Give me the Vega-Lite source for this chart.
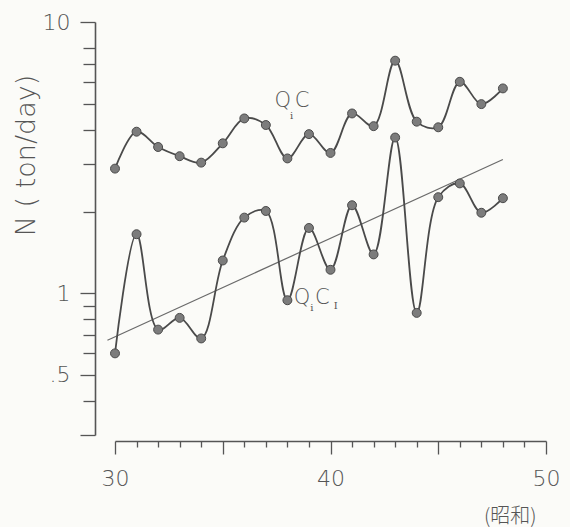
{
  "$schema": "https://vega.github.io/schema/vega-lite/v6.json",
  "autosize": {"type": "none"},
  "width": 431,
  "height": 413,
  "padding": {"left": 115, "top": 22, "right": 24, "bottom": 92},
  "background": "#fbfbf8",
  "config": {
    "view": {"stroke": null},
    "font": "DejaVu Sans"
  },
  "datasets": {
    "loads": [
      {"year": 30, "n": 2.88, "series": "QC"},
      {"year": 31, "n": 3.94, "series": "QC"},
      {"year": 32, "n": 3.46, "series": "QC"},
      {"year": 33, "n": 3.2, "series": "QC"},
      {"year": 34, "n": 3.03, "series": "QC"},
      {"year": 35, "n": 3.57, "series": "QC"},
      {"year": 36, "n": 4.41, "series": "QC"},
      {"year": 37, "n": 4.17, "series": "QC"},
      {"year": 38, "n": 3.14, "series": "QC"},
      {"year": 39, "n": 3.86, "series": "QC"},
      {"year": 40, "n": 3.29, "series": "QC"},
      {"year": 41, "n": 4.6, "series": "QC"},
      {"year": 42, "n": 4.13, "series": "QC"},
      {"year": 43, "n": 7.2, "series": "QC"},
      {"year": 44, "n": 4.29, "series": "QC"},
      {"year": 45, "n": 4.09, "series": "QC"},
      {"year": 46, "n": 6.02, "series": "QC"},
      {"year": 47, "n": 4.98, "series": "QC"},
      {"year": 48, "n": 5.69, "series": "QC"},
      {"year": 30, "n": 0.6, "series": "QCI"},
      {"year": 31, "n": 1.65, "series": "QCI"},
      {"year": 32, "n": 0.734, "series": "QCI"},
      {"year": 33, "n": 0.811, "series": "QCI"},
      {"year": 34, "n": 0.681, "series": "QCI"},
      {"year": 35, "n": 1.32, "series": "QCI"},
      {"year": 36, "n": 1.9, "series": "QCI"},
      {"year": 37, "n": 2.01, "series": "QCI"},
      {"year": 38, "n": 0.942, "series": "QCI"},
      {"year": 39, "n": 1.74, "series": "QCI"},
      {"year": 40, "n": 1.22, "series": "QCI"},
      {"year": 41, "n": 2.11, "series": "QCI"},
      {"year": 42, "n": 1.39, "series": "QCI"},
      {"year": 43, "n": 3.75, "series": "QCI"},
      {"year": 44, "n": 0.846, "series": "QCI"},
      {"year": 45, "n": 2.26, "series": "QCI"},
      {"year": 46, "n": 2.54, "series": "QCI"},
      {"year": 47, "n": 1.98, "series": "QCI"},
      {"year": 48, "n": 2.24, "series": "QCI"}
    ],
    "trend": [
      {"year": 29.65, "n": 0.671},
      {"year": 48, "n": 3.11}
    ],
    "labels": [
      {"year": 37.78, "n": 5.11, "t": "Q", "role": "main"},
      {"year": 38.2, "n": 4.5, "t": "i", "role": "sub"},
      {"year": 38.68, "n": 5.11, "t": "C", "role": "main"},
      {"year": 38.68, "n": 0.958, "t": "Q", "role": "main"},
      {"year": 39.13, "n": 0.885, "t": "i", "role": "sub"},
      {"year": 39.62, "n": 0.958, "t": "C", "role": "main"},
      {"year": 40.24, "n": 0.9, "t": "I", "role": "sub"}
    ]
  },
  "encoding": {
    "x": {
      "field": "year",
      "type": "quantitative",
      "scale": {"domain": [30, 50], "nice": false, "zero": false},
      "axis": {
        "values": [30, 31, 32, 33, 34, 35, 36, 37, 38, 39, 40, 41, 42, 43, 44, 45, 46, 47, 48, 49, 50],
        "labelExpr": "datum.value % 10 == 0 ? datum.label : ''",
        "tickSize": {"condition": {"test": "datum.value % 5 == 0", "value": 13}, "value": 6},
        "offset": 6,
        "grid": false,
        "labelFlush": false,
        "labelOverlap": false,
        "labelFont": "DejaVu Sans",
        "labelFontWeight": 300,
        "labelFontSize": 22,
        "labelColor": "#555555",
        "labelBaseline": "top",
        "labelPadding": 14,
        "domainColor": "#555555",
        "domainWidth": 1.6,
        "tickColor": "#555555",
        "tickWidth": 1.3,
        "title": "(昭和)",
        "titleFont": "Noto Sans CJK JP",
        "titleFontSize": 20,
        "titleFontWeight": 300,
        "titleColor": "#555555",
        "titleX": 421,
        "titleY": 85,
        "titleAlign": "right",
        "titleBaseline": "bottom"
      }
    },
    "y": {
      "field": "n",
      "type": "quantitative",
      "scale": {"type": "log", "domain": [0.3, 10], "nice": false, "zero": false},
      "axis": {
        "values": [0.3, 0.4, 0.5, 0.6, 0.7, 0.8, 0.9, 1, 2, 3, 4, 5, 6, 7, 8, 10],
        "labelExpr": "datum.value == 10 ? '10' : datum.value == 1 ? '1' : datum.value == 0.5 ? '.5' : ''",
        "tickSize": {"condition": {"test": "datum.value == 10 || datum.value == 1 || datum.value == 0.5 || datum.value == 0.3", "value": 15}, "value": 12},
        "offset": 20,
        "grid": false,
        "labelOverlap": false,
        "labelFont": "DejaVu Sans",
        "labelFontWeight": 300,
        "labelFontSize": 22,
        "labelColor": "#555555",
        "labelPadding": 10,
        "domainColor": "#555555",
        "domainWidth": 1.6,
        "tickColor": "#555555",
        "tickWidth": 1.3,
        "title": "N ( ton/day)",
        "titleFont": "DejaVu Sans",
        "titleFontSize": 27,
        "titleFontWeight": 300,
        "titleColor": "#555555",
        "titleX": -69,
        "titleY": 133,
        "titleAlign": "center",
        "titleBaseline": "middle",
        "titleAngle": -90
      }
    }
  },
  "layer": [
    {
      "data": {"name": "trend"},
      "mark": {"type": "line", "color": "#6a6a6a", "strokeWidth": 1.2}
    },
    {
      "data": {"name": "loads"},
      "mark": {"type": "line", "interpolate": "catmull-rom", "color": "#4a4a4a", "strokeWidth": 1.8},
      "encoding": {"detail": {"field": "series"}}
    },
    {
      "data": {"name": "loads"},
      "mark": {"type": "point", "filled": true, "fill": "#7c7c7c", "stroke": "#4a4a4a", "strokeWidth": 1, "size": 80, "opacity": 1}
    },
    {
      "data": {"name": "labels"},
      "transform": [{"filter": "datum.role == 'main'"}],
      "mark": {"type": "text", "font": "DejaVu Sans", "fontWeight": 300, "fontSize": 21, "color": "#555555", "align": "center", "baseline": "middle"},
      "encoding": {"text": {"field": "t"}}
    },
    {
      "data": {"name": "labels"},
      "transform": [{"filter": "datum.role == 'sub'"}],
      "mark": {"type": "text", "font": "DejaVu Serif", "fontSize": 10, "color": "#555555", "align": "center", "baseline": "middle"},
      "encoding": {"text": {"field": "t"}}
    }
  ]
}
